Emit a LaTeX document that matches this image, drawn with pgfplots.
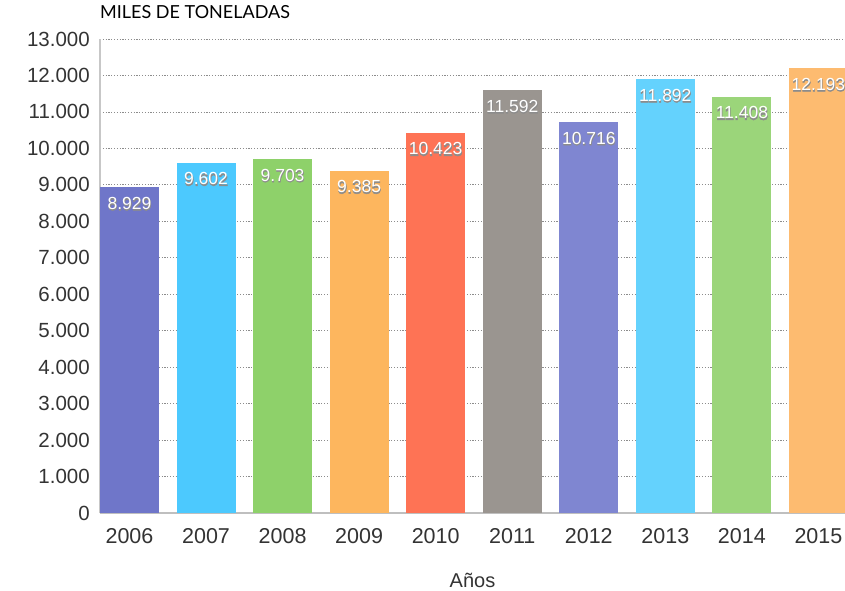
\documentclass[border=0pt]{standalone}
\usepackage{fontspec}
\setmainfont{Liberation Sans}
\newfontfamily\lato{Lato}
\usepackage{pgfplots}
\pgfplotsset{compat=1.18}
\definecolor{c06}{HTML}{6F76C9}
\definecolor{c07}{HTML}{4CC9FE}
\definecolor{c08}{HTML}{8ED16A}
\definecolor{c09}{HTML}{FDB65E}
\definecolor{c10}{HTML}{FE7355}
\definecolor{c11}{HTML}{9A9590}
\definecolor{c12}{HTML}{7F86D1}
\definecolor{c13}{HTML}{64D2FD}
\definecolor{c14}{HTML}{9BD57A}
\definecolor{c15}{HTML}{FDBB70}
\definecolor{tickc}{HTML}{333333}
\newcommand\shadowed[1]{\makebox[0pt][l]{\hspace{0.3bp}\raisebox{-1bp}{\addfontfeature{FakeBold=2.5}\color{black!45}#1}}#1}
\begin{document}
\begin{tikzpicture}
\useasboundingbox (0,0) rectangle (845bp,591bp);
\begin{axis}[
  at={(100bp,78bp)}, anchor=south west,
  width=745bp, height=474bp, scale only axis,
  xmin=-0.385, xmax=9.347, ymin=0, ymax=13000,
  ybar, bar width=59bp,
  every axis plot/.append style={bar shift=0pt, draw=none},
  xtick={0,...,9},
  xticklabels={2006,2007,2008,2009,2010,2011,2012,2013,2014,2015},
  ytick={0,1000,...,13000},
  scaled y ticks=false,
  /pgf/number format/.cd, fixed, precision=0, 1000 sep={.}, assume math mode=true,
  /pgfplots/.cd,
  major tick length=0pt,
  axis x line*=bottom, axis y line*=left,
  x axis line style={color=black!25, line width=2bp, -},
  y axis line style={color=black!22, line width=1.2bp, -},
  ymajorgrids,
  grid style={color=black!45, line width=0.7bp, dash pattern=on 1.2bp off 1.6bp},
  tick label style={text=tickc},
  yticklabel style={font=\fontsize{20.5bp}{24bp}\selectfont, anchor=east, inner sep=0pt, xshift=-10bp},
  xticklabel style={font=\fontsize{21.5bp}{24bp}\selectfont, anchor=base, inner sep=0pt, yshift=-30bp},
  xlabel={Años},
  xlabel style={font=\fontsize{20bp}{24bp}\selectfont, text=tickc, at={(axis description cs:0.5,0)}, anchor=center, yshift=-67bp},
  title={\lato MILES DE TONELADAS},
  title style={font=\fontsize{18bp}{20bp}\selectfont, at={(axis description cs:0,1)}, anchor=base west, inner sep=0pt, yshift=15bp},
  nodes near coords={\shadowed{\pgfmathprintnumber{\pgfplotspointmeta}}},
  every node near coord/.append style={anchor=north, inner sep=0pt, yshift=-9.5bp, text=white, font=\fontsize{17.5bp}{20bp}\selectfont},
  clip=true,
]
\addplot[fill=c06] coordinates {(0,8929)};
\addplot[fill=c07] coordinates {(1,9602)};
\addplot[fill=c08] coordinates {(2,9703)};
\addplot[fill=c09] coordinates {(3,9385)};
\addplot[fill=c10] coordinates {(4,10423)};
\addplot[fill=c11] coordinates {(5,11592)};
\addplot[fill=c12] coordinates {(6,10716)};
\addplot[fill=c13] coordinates {(7,11892)};
\addplot[fill=c14] coordinates {(8,11408)};
\addplot[fill=c15] coordinates {(9,12193)};
\end{axis}
\end{tikzpicture}
\end{document}
